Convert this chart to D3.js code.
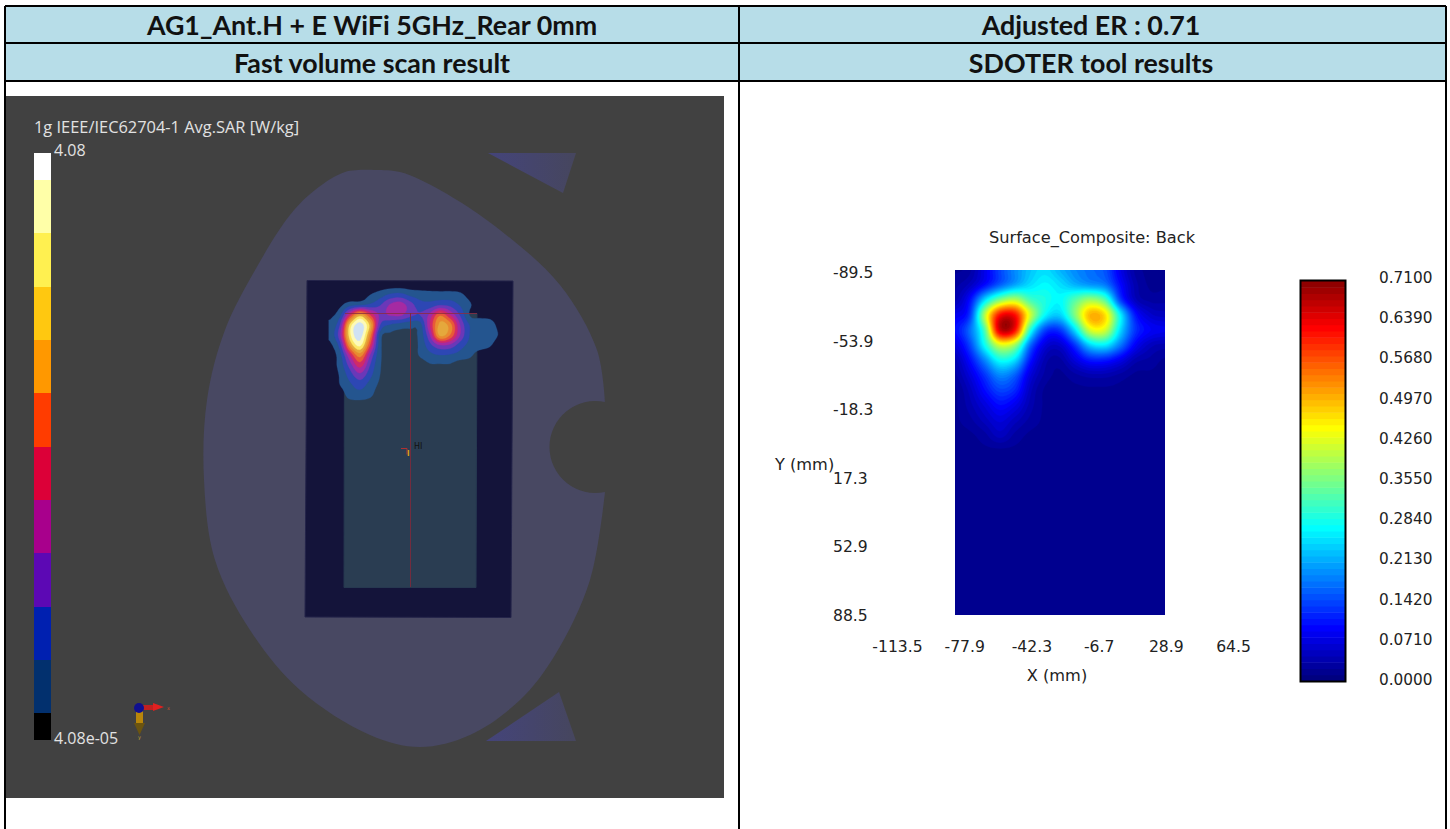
<!DOCTYPE html>
<html><head><meta charset="utf-8">
<script src="https://d3js.org/d3.v7.min.js"></script>
<style>html,body{margin:0;padding:0;background:#fff;overflow:hidden}svg{display:block}</style>
</head><body><svg id="c" width="1450" height="829"></svg>
<script>
// ---------- texts ----------
const headerTexts = ["AG1_Ant.H + E WiFi 5GHz_Rear 0mm","Adjusted ER : 0.71","Fast volume scan result","SDOTER tool results"];
const sarTitle = "1g IEEE/IEC62704-1 Avg.SAR [W/kg]";
const sarMaxLabel = "4.08", sarMinLabel = "4.08e-05";
// ---------- left legend ----------
const sarBandColors = ["#000000","#02306e","#0020b0","#5c08b4","#a8008c","#dc0038","#ff3c00","#ff9800","#ffc810","#fff050","#ffffa8","#ffffff"];
const sarBandEdges = [740,713,660,607,553,500,447,393,340,287,233,180,153];
// ---------- left heat levels: rows y=285..405, cols x=330..500, step 10 px ----------
const sarX = [330,340,350,360,370,380,390,400,410,420,430,440,450,460,470,480,490,500];
const sarY = [285,295,305,315,325,335,345,355,365,375,385,395,405];
const sarLevels = [
[0,0,0,0,0,0,0,0,0,0,0,0,0,0,0,0,0,0],
[0,0,0,0,.5,1,1.7,1.9,1.3,1,.9,.9,.9,.7,.2,0,0,0],
[0,.3,1.1,1.4,1.7,2.4,3.6,4,3,1.9,1.9,2.4,2.2,1.4,.6,0,0,0],
[.3,1.2,5,8,5.5,3.3,3.6,3.7,2.8,2.5,3.8,6.3,4.5,2.4,.4,.2,.2,0],
[.7,2.5,8.8,11,8.2,2.5,1.4,1,.8,1,4.5,7.8,7,3.5,1.4,1.2,.9,.2],
[.8,3.2,9.2,11,7,1,.3,.2,.3,.8,3.5,7.8,6.5,3.5,1.4,1.2,1,.4],
[.3,2,7.5,9.8,5.5,.8,0,0,0,.7,2.2,3.5,3.3,2,1.2,1,.6,0],
[0,1.1,4.5,7,3.5,.7,0,0,0,.6,1.2,1.5,1.4,1.1,.7,0,0,0],
[0,.9,3,5,2.5,.6,0,0,0,0,.4,.4,.4,0,0,0,0,0],
[0,.6,2,3.2,1.8,.5,0,0,0,0,0,0,0,0,0,0,0,0],
[0,.5,1.3,1.9,1.1,.3,0,0,0,0,0,0,0,0,0,0,0,0],
[0,0,.9,1.1,.7,0,0,0,0,0,0,0,0,0,0,0,0,0],
[0,0,0,0,0,0,0,0,0,0,0,0,0,0,0,0,0,0]];
const sarThresholds = [.5,1.5,2.5,3.5,4.5,5.5,6.5,7.5,8.5,9.5,10.5];
const sarHeatColors = ["#24558f","#2d47b4","#6a38b8","#a52aa2","#d02a68","#e85a38","#e88a30","#e5a83c","#fce868","#fdfab8","#cfe2f4"];
// ---------- phantom outline (scene coordinates) ----------
const headOutline = [[373,170],[345,172],[315,190],[290,215],[258,265],[225,330],[207,400],[204,480],[215,560],[250,630],[300,690],[370,735],[420,747],[470,735],[520,700],[555,655],[590,580],[605,492]];
const headOutline2 = [[605,402],[597,350],[560,285],[500,230],[440,190],[400,172],[373,170]];
const triTop = [[488,153],[576,153],[563,193]];
const triBottom = [[486,741],[576,741],[559,692]];
// ---------- right chart ----------
const xTicks = [-113.5,-77.9,-42.3,-6.7,28.9,64.5];
const yTicks = [-89.5,-53.9,-18.3,17.3,52.9,88.5];
const scaleTicks = ["0.0000","0.0710","0.1420","0.2130","0.2840","0.3550","0.4260","0.4970","0.5680","0.6390","0.7100"];
const chartTitle = "Surface_Composite: Back", xLabel = "X (mm)", yLabel = "Y (mm)";
const base = .02;
const sdoter = [
[.02,.03,.08,.14,.19,.23,.25,.22,.19,.17,.15,.08,.03,.02,.02],
[.03,.05,.10,.16,.21,.25,.27,.25,.22,.20,.18,.10,.04,.02,.02],
[.04,.10,.25,.36,.40,.32,.29,.27,.33,.38,.33,.14,.05,.03,.03],
[.08,.13,.40,.62,.62,.42,.27,.24,.36,.50,.47,.27,.11,.06,.05],
[.10,.17,.33,.66,.62,.30,.14,.13,.25,.42,.42,.25,.13,.09,.08],
[.07,.14,.28,.42,.38,.17,.07,.06,.13,.24,.26,.18,.09,.05,.04],
[.04,.10,.19,.28,.25,.11,.04,.03,.07,.11,.11,.08,.04,.03,.02],
[.03,.07,.13,.19,.16,.07,.03,.02,.03,.04,.04,.03,.02,.02,.02],
[.02,.05,.10,.14,.12,.05,.02,.02,.02,.02,.02,.02,.02,.02,.02],
[.02,.04,.07,.10,.08,.04,.02,.02,.02,.02,.02,.02,.02,.02,.02],
[.02,.03,.05,.07,.05,.03,.02,.02,.02,.02,.02,.02,.02,.02,.02],
[.02,.02,.03,.05,.03,.02,.02,.02,.02,.02,.02,.02,.02,.02,.02],
...d3.range(12).map(()=>d3.range(15).map(()=>base))];

const svg = d3.select("#c");
const hdrFont = "Lato, 'Noto Sans', sans-serif", uiFont = "'DejaVu Sans', sans-serif";

// ---------- table ----------
svg.append("rect").attr("x",5).attr("y",6).attr("width",1441).attr("height",75).attr("fill","#b7dde8");
[[5,6,1446,6],[5,43,1446,43],[5,81,1446,81],[5,6,5,829],[739,6,739,829],[1446,6,1446,829]].forEach(l=>
  svg.append("line").attr("x1",l[0]).attr("y1",l[1]).attr("x2",l[2]).attr("y2",l[3]).attr("stroke","#000").attr("stroke-width",2));
[[372,25],[1091,25],[372,63],[1091,63]].forEach((p,i)=>
  svg.append("text").attr("x",p[0]).attr("y",p[1]).attr("dy","0.36em").attr("text-anchor","middle")
    .attr("font-family",hdrFont).attr("font-weight",700).attr("font-size",26.8).attr("fill","#111").text(headerTexts[i]));

// ---------- smoothing helper ----------
function catmull(p0,p1,p2,p3,t){return .5*((2*p1)+(-p0+p2)*t+(2*p0-5*p1+4*p2-p3)*t*t+(-p0+3*p1-3*p2+p3)*t*t*t);}
function upsample(m,k){
  const R=m.length,C=m[0].length,W=(C-1)*k+1,H=(R-1)*k+1,out=new Float64Array(W*H);
  const g=(r,c)=>m[Math.max(0,Math.min(R-1,r))][Math.max(0,Math.min(C-1,c))];
  for(let y=0;y<H;y++){const ry=y/k,r=Math.min(Math.floor(ry),R-2),ty=ry-r;
    for(let x=0;x<W;x++){const rx=x/k,c=Math.min(Math.floor(rx),C-2),tx=rx-c;
      const col=[-1,0,1,2].map(d=>catmull(g(r+d,c-1),g(r+d,c),g(r+d,c+1),g(r+d,c+2),tx));
      out[y*W+x]=catmull(col[0],col[1],col[2],col[3],ty);}}
  return {values:out,W,H};
}
function drawContours(g,u,sx,sy,thresholds,color){
  // d3.contours places sample i at coordinate i+0.5
  const proj=d3.geoTransform({point(x,y){this.stream.point(sx(x),sy(y));}});
  const path=d3.geoPath(proj);
  const contours=d3.contours().size([u.W,u.H]).thresholds(thresholds)(Array.from(u.values));
  g.selectAll("path.b").data(contours).join("path").attr("class","b")
    .attr("d",path).attr("fill",d=>color(d.value)).attr("stroke",d=>color(d.value)).attr("stroke-width",.3);
}

// ---------- left scene ----------
const left = svg.append("g");
left.append("rect").attr("x",6).attr("y",96).attr("width",718).attr("height",702).attr("fill","#414141");
const sc = d3.line().curve(d3.curveCatmullRom.alpha(.5));
const headPath = sc(headOutline)+" A46 46 0 1 1 "+headOutline2[0].join(" ")+" "+sc(headOutline2).replace(/^M[^CL]*/,"");
left.append("path").attr("d",headPath+"Z").attr("fill","#484862");
const triGrad = svg.append("defs").append("linearGradient").attr("id","tri");
triGrad.append("stop").attr("offset","0").attr("stop-color","#44447a");
triGrad.append("stop").attr("offset","1").attr("stop-color","#46465e");
[triTop,triBottom].forEach(t=>left.append("path").attr("d",d3.line()(t)+"Z").attr("fill","url(#tri)"));
left.append("path").attr("d","M307 280.5L513 281L511 617.5L305 617Z").attr("fill","#14143a").attr("stroke","#24244a");
left.append("path").attr("d","M344.5 313L477 313.5L476 587.5L344 587.5Z").attr("fill","#2a3d52").attr("stroke","#263850");
const leftHeat = left.append("g");
const upL = upsample(sarLevels,4);
const sxL = d3.scaleLinear().domain([.5,upL.W-.5]).range([sarX[0],sarX[sarX.length-1]]);
const syL = d3.scaleLinear().domain([.5,upL.H-.5]).range([sarY[0],sarY[sarY.length-1]]);
const cL = d3.scaleOrdinal().domain(sarThresholds).range(sarHeatColors);
drawContours(leftHeat,upL,sxL,syL,sarThresholds,cL);
left.append("line").attr("x1",345).attr("y1",313.5).attr("x2",477).attr("y2",313.5).attr("stroke","#8c2a40").attr("stroke-opacity",.8);
left.append("line").attr("x1",410.5).attr("y1",313).attr("x2",410.5).attr("y2",587).attr("stroke","#7a2a3c").attr("stroke-opacity",.9);
// centre marker
left.append("path").attr("d","M401 448.5h6v6").attr("fill","none").attr("stroke","#b03030");
left.append("line").attr("x1",408.5).attr("y1",450).attr("x2",408.5).attr("y2",456).attr("stroke","#d0a020").attr("stroke-width",1.5);
left.append("text").attr("x",414).attr("y",449).attr("font-family",uiFont).attr("font-size",8).attr("fill","#111").text("HI");
// legend
const lg = left.append("g");
lg.selectAll("rect").data(sarBandColors).join("rect").attr("x",34).attr("width",17)
  .attr("y",(d,i)=>sarBandEdges[i+1]).attr("height",(d,i)=>sarBandEdges[i]-sarBandEdges[i+1]).attr("fill",d=>d);
const lbl=(x,y,t,fs)=>left.append("text").attr("x",x).attr("y",y).attr("font-family","'Open Sans',sans-serif").attr("font-size",fs).attr("fill","#e2e2e2").text(t);
lbl(34,133,sarTitle,16.4); lbl(54,156,sarMaxLabel,16); lbl(54,744,sarMinLabel,16);
// orientation triad
const triad = left.append("g");
triad.append("rect").attr("x",136).attr("y",708).attr("width",7).attr("height",16).attr("fill","#b8860b");
triad.append("path").attr("d","M134 723h11l-5.5 12Z").attr("fill","#6b5410");
triad.append("rect").attr("x",140).attr("y",705).attr("width",14).attr("height",5).attr("fill","#c02020");
triad.append("path").attr("d","M153 703l11 4-11 4Z").attr("fill","#e02020");
triad.append("circle").attr("cx",139).attr("cy",708).attr("r",5).attr("fill","#101090");
triad.append("text").attr("x",167).attr("y",710).attr("font-size",5).attr("font-family",uiFont).attr("fill","#c05030").text("x");
triad.append("text").attr("x",138).attr("y",739).attr("font-size",5).attr("font-family",uiFont).attr("fill","#c0a030").text("y");

// ---------- right chart ----------
const right = svg.append("g");
const xAxisScale = d3.scaleLinear().domain([-113.5,64.5]).range([897,1233]);
const yAxisScale = d3.scaleLinear().domain([-89.5,88.5]).range([272,615]);
const jet = v=>{const t=Math.max(0,Math.min(1,v/.71));
  const f=s=>Math.round(255*Math.max(0,Math.min(1,1.5-Math.abs(4*t-s))));
  return `rgb(${f(3)},${f(2)},${f(1)})`;};
const heatXDom=[xAxisScale.invert(955),xAxisScale.invert(1165)], heatYDom=[yAxisScale.invert(270),yAxisScale.invert(615)];
const defs=svg.select("defs");
defs.append("clipPath").attr("id","hc").append("rect").attr("x",xAxisScale(heatXDom[0])).attr("y",yAxisScale(heatYDom[0]))
  .attr("width",xAxisScale(heatXDom[1])-xAxisScale(heatXDom[0])).attr("height",yAxisScale(heatYDom[1])-yAxisScale(heatYDom[0]));
const heat = right.append("g").attr("clip-path","url(#hc)");
heat.append("rect").attr("x",955).attr("y",270).attr("width",210).attr("height",345).attr("fill",jet(0));
const upR = upsample(sdoter,5);
const sxR = d3.scaleLinear().domain([.5,upR.W-.5]).range(heatXDom.map(xAxisScale));
const syR = d3.scaleLinear().domain([.5,upR.H-.5]).range(heatYDom.map(yAxisScale));
const levels = d3.range(0,.71,.71/64);
drawContours(heat,upR,sxR,syR,levels,jet);

const axX = right.append("g").attr("transform","translate(0,646)").call(d3.axisBottom(xAxisScale).tickValues(xTicks).tickSize(0).tickPadding(0).tickFormat(d=>d.toFixed(1)));
axX.select(".domain").remove();
const axY = right.append("g").attr("transform","translate(833,0.5)").call(d3.axisRight(yAxisScale).tickValues(yTicks).tickSize(0).tickPadding(0).tickFormat(d=>d.toFixed(1)));
axY.select(".domain").remove();
right.selectAll("g.tick text").attr("font-family",uiFont).attr("font-size",15.6).attr("fill","#222");
axX.selectAll("text").attr("dy","0.36em").attr("y",0);
const rt=(x,y,t,a,fs)=>right.append("text").attr("x",x).attr("y",y).attr("dy","0.36em").attr("text-anchor",a||"middle").attr("font-family",uiFont).attr("font-size",fs||15.3).attr("fill","#222").text(t);
rt(1092,237,chartTitle,"middle",16.2); rt(1057,675,xLabel,"middle",16.2); rt(775,464,yLabel,"start",16.2);
// colour scale
const barScale = d3.scaleLinear().domain([0,.71]).range([681,281]);
const barSteps = d3.range(0,.71,.71/64);
right.selectAll("rect.s").data(barSteps).join("rect").attr("class","s").attr("x",1300).attr("width",46)
  .attr("y",d=>barScale(d+.71/64)).attr("height",d=>barScale(d)-barScale(d+.71/64)+.5).attr("fill",d=>jet(d));
right.append("rect").attr("x",1300.5).attr("y",280.5).attr("width",45).attr("height",401).attr("fill","none").attr("stroke","#000").attr("stroke-width",2);
const tickScale = d3.scalePoint().domain(scaleTicks).range([679.5,277.5]);
scaleTicks.forEach(t=>rt(1379,tickScale(t),t,"start"));
</script></body></html>
